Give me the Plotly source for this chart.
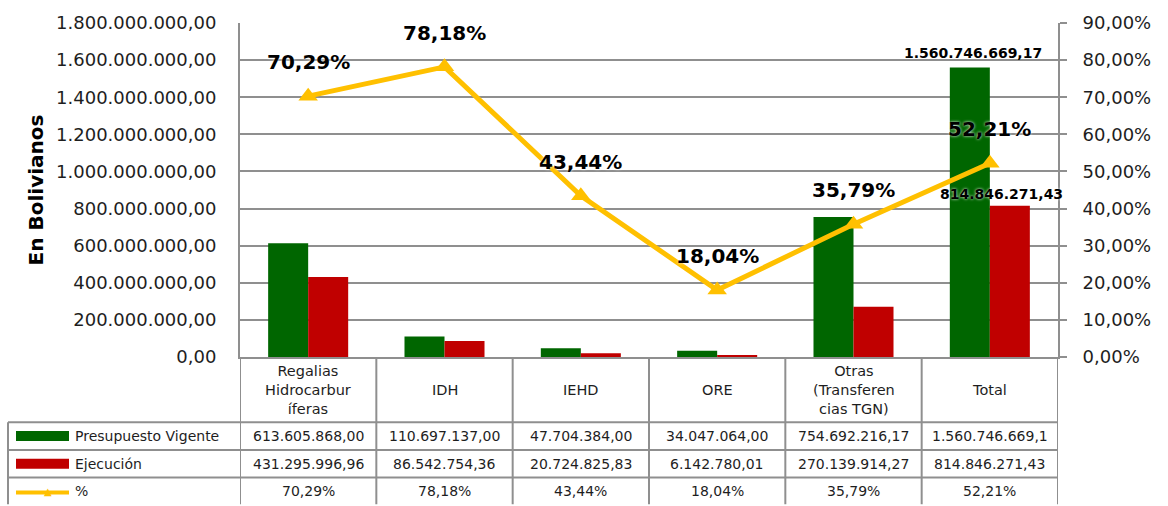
import plotly.graph_objects as go

# ---------------- data ----------------
categories = ["Regalias Hidrocarburíferas", "IDH", "IEHD", "ORE",
              "Otras (Transferencias TGN)", "Total"]
header_labels = ["Regalias<br>Hidrocarbur<br>íferas", "IDH", "IEHD", "ORE",
                 "Otras<br>(Transferen<br>cias TGN)", "Total"]
presupuesto = [613605868.00, 110697137.00, 47704384.00, 34047064.00,
               754692216.17, 1560746669.17]
ejecucion = [431295996.96, 86542754.36, 20724825.83, 6142780.01,
             270139914.27, 814846271.43]
porcentaje = [70.29, 78.18, 43.44, 18.04, 35.79, 52.21]
series_names = ["Presupuesto Vigente", "Ejecución", "%"]

GREEN = "#006600"
RED = "#C00000"
YELLOW = "#FFC000"
GRID = "#8f8f8f"
TXT = "#1e1e1e"
FONT = "DejaVu Sans"

# plot area geometry (pixels)
W, H = 1168, 506
L, R, T, B = 240, 1058, 19, 357


def px(x):
    return (x - L) / (R - L)


def py(y):
    return (B - y) / (B - T)


def fmt_es(v):
    s = f"{v:,.2f}"
    return s.replace(",", "X").replace(".", ",").replace("X", ".")


def fmt_pct(p):
    return f"{p:.2f}%".replace(".", ",")


fig = go.Figure()
fig.add_trace(go.Bar(x=categories, y=presupuesto, name=series_names[0],
                     marker=dict(color=GREEN, line=dict(width=0))))
fig.add_trace(go.Bar(x=categories, y=ejecucion, name=series_names[1],
                     marker=dict(color=RED, line=dict(width=0))))
fig.add_trace(go.Scatter(x=categories, y=porcentaje, yaxis="y2", name=series_names[2],
                         mode="lines+markers",
                         line=dict(color=YELLOW, width=5),
                         marker=dict(symbol="triangle-up", size=17, color=YELLOW)))

annotations = []
# percentage labels
for c, p in zip(categories, porcentaje):
    annotations.append(dict(x=c, y=p, xref="x", yref="y2", yshift=34,
                            text=fmt_pct(p), showarrow=False,
                            font=dict(family=FONT, size=20, color="#000000",
                                      weight="bold", shadow="0px 0px 3px white")))
# total bar labels
annotations.append(dict(x=categories[-1], y=presupuesto[-1], xref="x", yref="y",
                        xshift=-17, yshift=14, text=fmt_es(presupuesto[-1]),
                        showarrow=False,
                        font=dict(family=FONT, size=14, color="#000000", weight="bold")))
annotations.append(dict(x=categories[-1], y=ejecucion[-1], xref="x", yref="y",
                        xshift=12, yshift=12, text=fmt_es(ejecucion[-1]),
                        showarrow=False,
                        font=dict(family=FONT, size=14, color="#000000", weight="bold",
                                  shadow="0px 0px 3px white")))

# ---------------- data table ----------------
shapes = []
row_lines = [423, 451, 479]
table_bottom = 506
legend_left = 8
cell_font = dict(family=FONT, size=14, color=TXT)

# horizontal lines
for yl in row_lines:
    shapes.append(dict(type="line", xref="paper", yref="paper",
                       x0=px(legend_left), x1=1, y0=py(yl), y1=py(yl),
                       line=dict(color=GRID, width=2)))
# vertical lines at category boundaries
for i in range(len(categories) + 1):
    shapes.append(dict(type="line", xref="x", yref="paper",
                       x0=i - 0.5, x1=i - 0.5, y0=py(B), y1=py(table_bottom),
                       line=dict(color=GRID, width=2)))
# legend column left border
shapes.append(dict(type="line", xref="paper", yref="paper",
                   x0=px(legend_left), x1=px(legend_left),
                   y0=py(row_lines[0]), y1=py(table_bottom),
                   line=dict(color=GRID, width=2)))

# header cells
for c, h in zip(categories, header_labels):
    annotations.append(dict(x=c, y=py(390), xref="x", yref="paper", text=h,
                            showarrow=False, align="center", yanchor="middle",
                            font=dict(family=FONT, size=14.5, color=TXT)))

row_centers = [437, 465, 493]
rows = [[fmt_es(v)[:15] for v in presupuesto],
        [fmt_es(v)[:15] for v in ejecucion],
        [fmt_pct(p) for p in porcentaje]]
for rc, vals in zip(row_centers, rows):
    for c, v in zip(categories, vals):
        annotations.append(dict(x=c, y=py(rc), xref="x", yref="paper", text=v,
                                showarrow=False, yanchor="middle", font=cell_font))

# legend keys in table
swatch_colors = [GREEN, RED]
for rc, col in zip(row_centers[:2], swatch_colors):
    shapes.append(dict(type="rect", xref="paper", yref="paper",
                       x0=px(16), x1=px(69), y0=py(rc - 5), y1=py(rc + 5),
                       fillcolor=col, line=dict(width=0)))
shapes.append(dict(type="line", xref="paper", yref="paper",
                   x0=px(16), x1=px(69), y0=py(row_centers[2] + 1), y1=py(row_centers[2] + 1),
                   line=dict(color=YELLOW, width=4)))
annotations.append(dict(x=px(42), y=py(row_centers[2]), xref="paper", yref="paper",
                        text="▲", showarrow=False, yanchor="middle",
                        font=dict(family=FONT, size=10, color=YELLOW)))
for rc, name in zip(row_centers, series_names):
    annotations.append(dict(x=px(73), y=py(rc), xref="paper", yref="paper",
                            text=name, showarrow=False, xanchor="left",
                            yanchor="middle", font=cell_font))

fig.update_layout(
    width=W, height=H,
    margin=dict(l=L, r=W - R, t=T, b=H - B, pad=0),
    paper_bgcolor="white", plot_bgcolor="white",
    barmode="group", bargap=0.413, bargroupgap=0,
    showlegend=False,
    separators=",.",
    font=dict(family=FONT, color=TXT),
    xaxis=dict(type="category", range=[-0.5, 5.5], showticklabels=False,
               showgrid=False, zeroline=False, showline=True,
               linecolor=GRID, linewidth=2, ticks=""),
    yaxis=dict(range=[0, 1.8e9], dtick=2e8, tickformat=",.2f",
               showgrid=True, gridcolor=GRID, gridwidth=2, zeroline=False,
               showline=True, linecolor=GRID, linewidth=2, ticks="",
               ticklabelstandoff=18,
               tickfont=dict(family=FONT, size=18, color=TXT),
               title=dict(text="En Bolivianos", standoff=7,
                          font=dict(family=FONT, size=20, color="#000000",
                                    weight="bold"))),
    yaxis2=dict(range=[0, 90], dtick=10, tickformat=".2f", ticksuffix="%",
                overlaying="y", side="right", showgrid=False, zeroline=False,
                showline=True, linecolor=GRID, linewidth=2,
                ticks="outside", ticklen=7, tickcolor=GRID, tickwidth=2,
                ticklabelstandoff=12,
                tickfont=dict(family=FONT, size=18, color=TXT)),
    shapes=shapes,
    annotations=annotations,
)

fig.write_html("out.html", config={"displayModeBar": False},
               post_script="document.body.style.margin='0';")
